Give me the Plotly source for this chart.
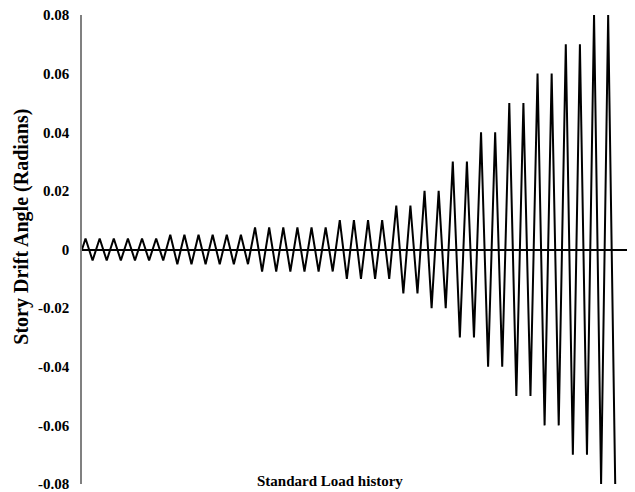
import plotly.graph_objects as go

# Loading protocol: drift amplitudes (rad) and number of cycles at each
amplitudes = [0.00375, 0.005, 0.0075, 0.01, 0.015, 0.02, 0.03, 0.04, 0.05, 0.06, 0.07, 0.08]
cycles = [6, 6, 6, 4, 2, 2, 2, 2, 2, 2, 2, 2]
y_ticks = [-0.08, -0.06, -0.04, -0.02, 0, 0.02, 0.04, 0.06, 0.08]
y_tick_labels = ["-0.08", "-0.06", "-0.04", "-0.02", "0", "0.02", "0.04", "0.06", "0.08"]

# Build the drift history: start at 0, then alternate +a / -a for each cycle
xs = [0.0]
ys = [0.0]
step = 0
for a, n in zip(amplitudes, cycles):
    for _ in range(n):
        for sgn in (1, -1):
            xs.append(0.5 + step)
            ys.append(sgn * a)
            step += 1

font_family = "Liberation Serif, Times New Roman, serif"

fig = go.Figure()
fig.add_trace(go.Scatter(x=xs, y=ys, mode="lines",
                         line=dict(color="black", width=2), hoverinfo="skip"))

# page body has an 8px default margin, so the figure is sized to fit the window
fig.update_layout(
    width=627, height=484,
    margin=dict(l=74, r=0, t=7, b=8, autoexpand=False),
    paper_bgcolor="white", plot_bgcolor="white",
    showlegend=False,
    font=dict(family=font_family, color="black"),
    xaxis=dict(range=[0, 78.3], showgrid=False, zeroline=False, showline=False,
               showticklabels=False, ticks=""),
    yaxis=dict(range=[-0.08, 0.08], showgrid=False, zeroline=True,
               zerolinecolor="black", zerolinewidth=2,
               showline=True, linecolor="#808080", linewidth=1.5,
               tickvals=y_ticks, ticktext=y_tick_labels, ticks="",
               ticklabelstandoff=8, ticklabeloverflow="allow",
               tickfont=dict(family=font_family, size=15, color="black", weight="bold")),
    annotations=[
        dict(text="<b>Standard Load history</b>", xref="paper", yref="paper",
             x=0.448, y=0.006, xanchor="center", yanchor="middle", showarrow=False,
             font=dict(family=font_family, size=15, color="black")),
        dict(text="<b>Story Drift Angle (Radians)</b>", xref="paper", yref="paper",
             x=-0.109, y=0.548, xanchor="center", yanchor="middle", showarrow=False,
             textangle=-90,
             font=dict(family=font_family, size=20, color="black")),
    ],
)

fig.write_html("out.html")
